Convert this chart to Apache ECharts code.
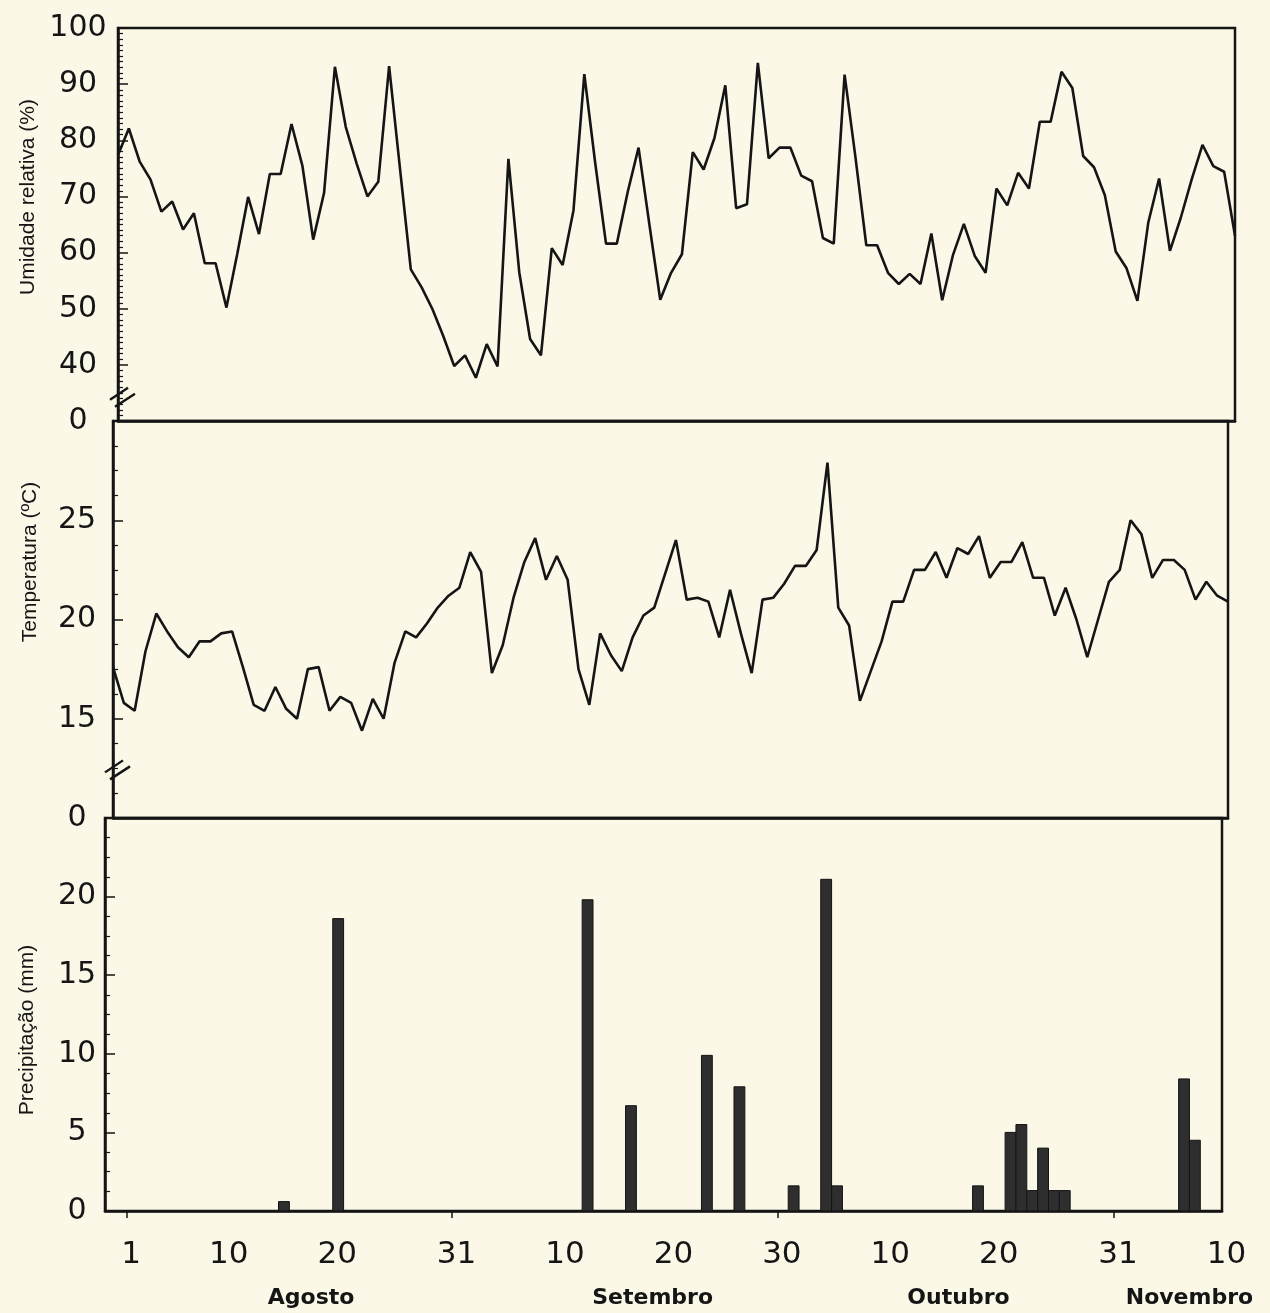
<!DOCTYPE html>
<html><head><meta charset="utf-8">
<script src="https://cdn.jsdelivr.net/npm/echarts@6/dist/echarts.min.js"></script>
<style>html,body{margin:0;padding:0;background:#fbf8e7;}#c{width:1270px;height:1313px;}</style>
</head><body><div id="c"></div>
<script>
// ---- data (day 1 = 1 Agosto; first daily point is day -1) ----
const firstDay = -1;
const umidade = [77.4,82.1,76.2,73.0,67.3,69.1,64.1,67.0,58.1,58.1,
 50.2,59.8,69.9,63.3,74.0,74.0,82.9,75.5,62.3,70.6,
 93.1,82.4,75.9,70.0,72.6,93.2,75.0,57.0,53.8,49.9,
 45.1,39.8,41.7,37.7,43.7,39.7,76.7,56.5,44.6,41.7,
 60.8,57.8,67.5,91.8,76.0,61.6,61.6,70.8,78.7,65.0,
 51.6,56.4,59.7,77.9,74.8,80.4,89.8,67.9,68.6,93.8,
 76.8,78.7,78.7,73.7,72.7,62.6,61.6,91.7,77.0,61.3,
 61.3,56.4,54.4,56.2,54.4,63.4,51.5,59.6,65.1,59.4,
 56.4,71.4,68.4,74.2,71.4,83.3,83.3,92.2,89.3,77.2,
 75.2,70.2,60.2,57.2,51.4,65.3,73.2,60.3,66.2,73.0,
 79.2,75.4,74.4,63.0];
const temperatura = [17.6,15.8,15.4,18.4,20.3,19.4,18.6,18.1,18.9,18.9,
 19.3,19.4,17.6,15.7,15.4,16.6,15.5,15.0,17.5,17.6,
 15.4,16.1,15.8,14.4,16.0,15.0,17.8,19.4,19.1,19.8,
 20.6,21.2,21.6,23.4,22.4,17.3,18.7,21.1,22.9,24.1,
 22.0,23.2,22.0,17.5,15.7,19.3,18.2,17.4,19.1,20.2,
 20.6,22.3,24.0,21.0,21.1,20.9,19.1,21.5,19.3,17.3,
 21.0,21.1,21.8,22.7,22.7,23.5,27.9,20.6,19.7,15.9,
 17.4,18.9,20.9,20.9,22.5,22.5,23.4,22.1,23.6,23.3,
 24.2,22.1,22.9,22.9,23.9,22.1,22.1,20.2,21.6,20.0,
 18.1,20.0,21.9,22.5,25.0,24.3,22.1,23.0,23.0,22.5,
 21.0,21.9,21.2,20.9];
const chuvaDias = [15,20,43,47,54,57,62,65,66,79,82,83,84,85,86,87,98,99];
const chuvaMm   = [0.6,18.6,19.8,6.7,9.9,7.9,1.6,21.1,1.6,1.6,5.0,5.5,1.3,4.0,1.3,1.3,8.4,4.5];
const tickLabelDays  = [1,10,20,31,41,51,61,71,81,92,102];
const tickLabelTexts = ['1','10','20','31','10','20','30','10','20','31','10'];
const monthTickDays  = [1,31,61,92];
const monthNames     = ['Agosto','Setembro','Outubro','Novembro'];
const monthLabelDays = [18,49.5,77.7,99];
const yTitles = ['Umidade relativa (%)','Temperatura (ºC)','Precipitação (mm)'];

// ---- chart ----
const ink = '#151515';
const numFont = 'DejaVu Sans';
const chart = echarts.init(document.getElementById('c'));
const xMin = -1, xMax = 102;

function hiddenX(g){
  return {type:'value', gridIndex:g, min:xMin, max:xMax,
    axisLine:{show:true,onZero:false,lineStyle:{color:ink,width:2.5}}, axisTick:{show:false},
    axisLabel:{show:false}, splitLine:{show:false}};
}
function yAx(g,min,max,minorSplit,labelMargin,showMax){
  return {type:'value', gridIndex:g, min:min, max:max, interval:(g===0?10:5),
    axisLine:{show:true,onZero:false,lineStyle:{color:ink,width:2.5}},
    axisTick:{show:true,inside:true,length:10,lineStyle:{color:ink,width:1.5}},
    minorTick:{show:true,splitNumber:minorSplit,length:5,lineStyle:{color:ink,width:1.2}},
    splitLine:{show:false}, minorSplitLine:{show:false},
    axisLabel:{show:true, color:ink, fontFamily:numFont, fontSize:30, align:'center',
      margin:labelMargin, showMaxLabel:showMax,
      formatter:function(v){ if(v===min) return '0'; if(!showMax && v===max) return ''; return String(v);} }
  };
}

chart.setOption({
  backgroundColor:'#fbf8e7',
  animation:false,
  grid:[
    {left:118, right:35, top:28, height:393, show:true, borderColor:ink, borderWidth:2.5, backgroundColor:'transparent'},
    {left:113, right:42, top:421, height:397, show:true, borderColor:ink, borderWidth:2.5, backgroundColor:'transparent'},
    {left:105, right:48, top:818, height:393, show:true, borderColor:ink, borderWidth:2.5, backgroundColor:'transparent'}
  ],
  xAxis:[
    hiddenX(0), hiddenX(1),
    {type:'value', gridIndex:2, min:xMin, max:xMax,
      axisLine:{show:true,onZero:false,lineStyle:{color:ink,width:2.5}},
      axisTick:{show:true, length:7, customValues:monthTickDays, lineStyle:{color:ink,width:1.5}},
      splitLine:{show:false},
      axisLabel:{show:true, customValues:tickLabelDays, color:ink, fontFamily:numFont, fontSize:31,
        margin:28, padding:[0,0,0,9],
        formatter:function(v){ const i=tickLabelDays.indexOf(v); return i>=0?tickLabelTexts[i]:''; }}},
    {type:'value', gridIndex:2, min:xMin, max:xMax, position:'bottom',
      axisLine:{show:false,onZero:false}, axisTick:{show:false}, splitLine:{show:false},
      axisLabel:{show:true, customValues:monthLabelDays, color:ink, fontFamily:numFont, fontWeight:'bold',
        fontSize:22, margin:76,
        formatter:function(v){ const i=monthLabelDays.indexOf(v); return i>=0?monthNames[i]:''; }}}
  ],
  yAxis:[
    yAx(0,30,100,10,40,true),
    yAx(1,10,30,4,36,false),
    yAx(2,0,25,4,28,false)
  ],
  series:[
    {type:'line', xAxisIndex:0, yAxisIndex:0, symbol:'none', silent:true,
      lineStyle:{color:ink,width:2.6}, data:umidade.map((v,i)=>[firstDay+i,v])},
    {type:'line', xAxisIndex:1, yAxisIndex:1, symbol:'none', silent:true,
      lineStyle:{color:ink,width:2.6}, data:temperatura.map((v,i)=>[firstDay+i,v])},
    {type:'custom', xAxisIndex:2, yAxisIndex:2, silent:true,
      encode:{x:0,y:1},
      data:chuvaDias.map((d,i)=>[d,chuvaMm[i]]),
      renderItem:function(params,api){
        const d=api.value(0), v=api.value(1);
        const p0=api.coord([d,v]), p1=api.coord([d+1,0]);
        return {type:'rect', shape:{x:p0[0], y:p0[1], width:p1[0]-p0[0], height:p1[1]-p0[1]},
          style:{fill:'#2e2e2e', stroke:'#141414', lineWidth:1}};
      }}
  ]
});

// axis titles and axis-break marks
const titleFont = '21px "Liberation Sans", Arial, sans-serif';
const titlePos = [[28,197],[30,562],[27,1030]];
const g = [];
yTitles.forEach(function(t,k){
  g.push({type:'text', x:titlePos[k][0], y:titlePos[k][1], rotation:Math.PI/2, silent:true,
    style:{text:t, font:titleFont, fill:ink, textAlign:'center', textVerticalAlign:'middle', align:'center', verticalAlign:'middle'}});
});
function breakMark(xAxisIndex,yAxisIndex,val){
  const x = chart.convertToPixel({xAxisIndex:xAxisIndex}, xMin);
  const y = chart.convertToPixel({yAxisIndex:yAxisIndex}, val);
  return {type:'group', x:x, y:y, silent:true, children:[
    {type:'line', shape:{x1:-8,y1:4,x2:10,y2:-8}, style:{stroke:ink,lineWidth:2.4}},
    {type:'line', shape:{x1:-3,y1:11,x2:17,y2:-2}, style:{stroke:ink,lineWidth:2.4}}
  ]};
}
g.push(breakMark(0,0,34.5));
g.push(breakMark(1,1,12.5));
chart.setOption({graphic:g});
</script></body></html>
